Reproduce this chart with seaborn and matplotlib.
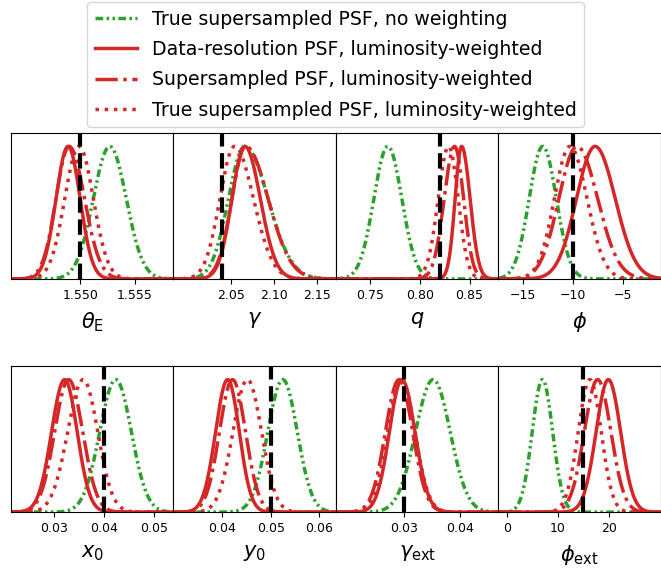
import numpy as np
import pandas as pd
import seaborn as sns
import matplotlib.pyplot as plt
from matplotlib.lines import Line2D

# Parameter labels and true values (black dashed lines)
labels = [r'$\theta_{\rm E}$', r'$\gamma$', r'$q$', r'$\phi$',
          r'$x_0$', r'$y_0$', r'$\gamma_{\rm ext}$', r'$\phi_{\rm ext}$']
truth = [1.550, 2.04, 0.82, -10.0, 0.040, 0.050, 0.030, 15.0]

# Posterior peak positions and left/right widths
# True supersampled PSF, no weighting
green_mu = [1.5527, 2.066, 0.768, -13.0, 0.0423, 0.0525, 0.0352, 7.0]
green_sl = [0.0015, 0.019, 0.014, 1.35, 0.0032, 0.0031, 0.0031, 2.0]
green_sr = [0.0015, 0.027, 0.014, 1.35, 0.0031, 0.0030, 0.0030, 2.0]
# Data-resolution PSF, luminosity-weighted
solid_mu = [1.5489, 2.066, 0.842, -7.8, 0.0321, 0.0411, 0.0297, 19.9]
solid_sl = [0.0011, 0.015, 0.0065, 1.85, 0.0026, 0.0025, 0.0022, 2.4]
solid_sr = [0.0011, 0.018, 0.0085, 2.0, 0.0025, 0.0024, 0.0023, 2.4]
# Supersampled PSF, luminosity-weighted
dashdot_mu = [1.5490, 2.067, 0.835, -9.6, 0.0329, 0.0421, 0.0292, 17.8]
dashdot_sl = [0.0012, 0.016, 0.0105, 1.8, 0.0028, 0.0027, 0.0024, 2.6]
dashdot_sr = [0.0014, 0.026, 0.009, 2.05, 0.0028, 0.0027, 0.0024, 2.6]
# True supersampled PSF, luminosity-weighted
dotted_mu = [1.5499, 2.054, 0.829, -10.3, 0.0358, 0.0452, 0.0296, 16.3]
dotted_sl = [0.0013, 0.017, 0.0105, 1.55, 0.0031, 0.0030, 0.0024, 2.3]
dotted_sr = [0.0013, 0.022, 0.0095, 1.7, 0.0029, 0.0029, 0.0024, 2.2]

ticks = [[1.550, 1.555], [2.05, 2.10, 2.15], [0.75, 0.80, 0.85], [-15, -10, -5],
         [0.03, 0.04, 0.05], [0.04, 0.05, 0.06], [0.03, 0.04], [0, 10, 20]]
xlims = [(1.5437, 1.5585), (1.983, 2.172), (0.716, 0.879), (-17.4, -1.25),
         (0.0214, 0.0538), (0.0299, 0.0635), (0.0181, 0.0467), (-1.6, 30.2)]

series = [
    ('True supersampled PSF, no weighting', green_mu, green_sl, green_sr,
     '#2ca02c', (0, (2.2, 1.0, 0.7, 1.0, 0.7, 1.0))),
    ('Data-resolution PSF, luminosity-weighted', solid_mu, solid_sl, solid_sr,
     '#d62728', '-'),
    ('Supersampled PSF, luminosity-weighted', dashdot_mu, dashdot_sl, dashdot_sr,
     '#d62728', '-.'),
    ('True supersampled PSF, luminosity-weighted', dotted_mu, dotted_sl, dotted_sr,
     '#d62728', ':'),
]


def split_normal(x, mu, sl, sr):
    s = np.where(x < mu, sl, sr)
    return np.exp(-0.5 * ((x - mu) / s) ** 2)


fig, axes = plt.subplots(2, 4, figsize=(6.61, 5.69), dpi=100)
plt.subplots_adjust(left=0.0166, right=1.0, bottom=0.1, top=0.766,
                    wspace=0, hspace=0.6)

for i, ax in enumerate(axes.flat):
    x = np.linspace(xlims[i][0], xlims[i][1], 500)
    for name, mu, sl, sr, col, ls in series:
        df = pd.DataFrame({'x': x, 'y': split_normal(x, mu[i], sl[i], sr[i])})
        sns.lineplot(data=df, x='x', y='y', ax=ax, color=col, linestyle=ls,
                     lw=2.5, estimator=None, legend=False)
    ax.axvline(truth[i], color='k', ls='--', lw=3)
    ax.set_xlim(xlims[i])
    ax.set_ylim(0, 1.1)
    ax.set_xticks(ticks[i])
    ax.set_yticks([])
    ax.tick_params(axis='x', labelsize=9)
    ax.set_ylabel('')
    ax.set_xlabel(labels[i], fontsize=15, labelpad=6)

handles = [Line2D([], [], color=col, linestyle=ls, lw=2.5)
           for name, mu, sl, sr, col, ls in series]
fig.legend(handles, [s[0] for s in series], loc='upper center',
           bbox_to_anchor=(0.508, 1.013), fontsize=13.6, handlelength=2.2,
           labelspacing=0.6)

plt.savefig('out.png', dpi=100)
